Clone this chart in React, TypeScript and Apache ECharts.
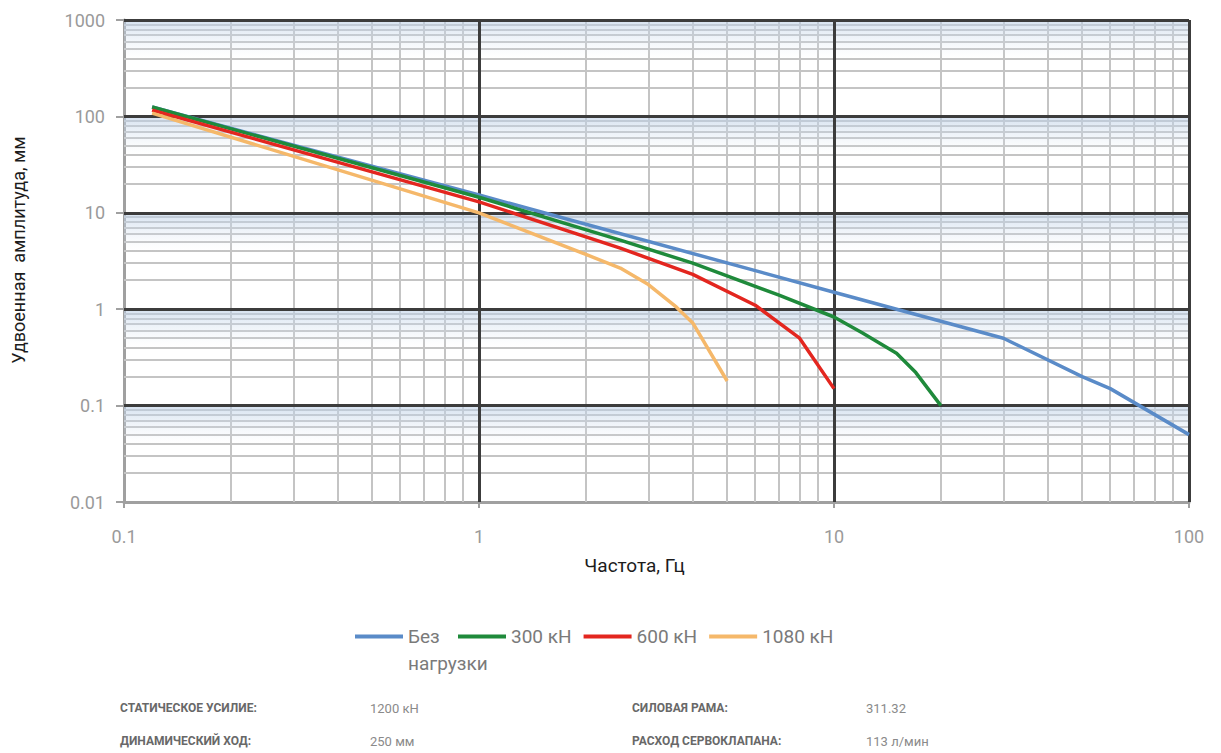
import React, { useEffect, useRef } from 'react';
import * as echarts from 'echarts';

const FONT = "'Liberation Sans Narrow', 'Arial Narrow', 'Roboto', sans-serif";

// Axis ticks
const X_TICKS = ['0.1', '1', '10', '100'];
const Y_TICKS = ['0.01', '0.1', '1', '10', '100', '1000'];
const X_MIN = 0.1;
const X_MAX = 100;
const Y_MIN = 0.01;
const Y_MAX = 1000;

// Grid lines of the log paper
const MINOR_X = [0.2, 0.3, 0.4, 0.5, 0.6, 0.7, 0.8, 0.9, 2, 3, 4, 5, 6, 7, 8, 9, 20, 30, 40, 50, 60, 70, 80, 90];
const MAJOR_X = [1, 10, 100];
const MINOR_Y = [
  0.02, 0.03, 0.04, 0.05, 0.06, 0.07, 0.08, 0.09,
  0.2, 0.3, 0.4, 0.5, 0.6, 0.7, 0.8, 0.9,
  2, 3, 4, 5, 6, 7, 8, 9,
  20, 30, 40, 50, 60, 70, 80, 90,
  200, 300, 400, 500, 600, 700, 800, 900,
];
const MAJOR_Y = [0.1, 1, 10, 100, 1000];
const BAND_TOPS = [1000, 100, 10, 1, 0.1];
const BAND_BOTTOMS = [400, 40, 4, 0.4, 0.04];

// Series
const SERIES_NAMES = ['Без нагрузки', '300 кН', '600 кН', '1080 кН'];
const SERIES_COLORS = ['#5a8bc8', '#1f8a3b', '#e3261f', '#f5b86a'];

const FREQ_NO_LOAD = [0.12, 1, 10, 20, 30, 50, 60, 100];
const AMP_NO_LOAD = [125, 15.3, 1.5, 0.75, 0.5, 0.2, 0.15, 0.05];

const FREQ_300 = [0.12, 1, 2.5, 4, 7, 10, 12, 15, 17, 20];
const AMP_300 = [125, 14.5, 5.2, 3.0, 1.4, 0.83, 0.57, 0.35, 0.22, 0.1];

const FREQ_600 = [0.12, 1, 2.5, 4, 6, 8, 10];
const AMP_600 = [116, 13, 4.3, 2.3, 1.1, 0.5, 0.15];

const FREQ_1080 = [0.12, 1, 2, 2.5, 3, 3.6, 4, 5];
const AMP_1080 = [108, 10, 3.7, 2.67, 1.8, 1.05, 0.72, 0.18];

const FREQS = [FREQ_NO_LOAD, FREQ_300, FREQ_600, FREQ_1080];
const AMPS = [AMP_NO_LOAD, AMP_300, AMP_600, AMP_1080];

// Info table
const INFO_LEFT_LABELS = ['СТАТИЧЕСКОЕ УСИЛИЕ:', 'ДИНАМИЧЕСКИЙ ХОД:'];
const INFO_LEFT_VALUES = ['1200 кН', '250 мм'];
const INFO_RIGHT_LABELS = ['СИЛОВАЯ РАМА:', 'РАСХОД СЕРВОКЛАПАНА:'];
const INFO_RIGHT_VALUES = ['311.32', '113 л/мин'];

function tickLabel(list: string[], v: number): string {
  let best = list[0];
  let bestD = Infinity;
  for (const s of list) {
    const d = Math.abs(Math.log10(parseFloat(s)) - Math.log10(v));
    if (d < bestD) { bestD = d; best = s; }
  }
  return best;
}

export default function App() {
  const ref = useRef<HTMLDivElement>(null);

  useEffect(() => {
    if (!ref.current) return;
    const chart = echarts.init(ref.current, undefined, { renderer: 'svg' });

    const dataSeries = SERIES_NAMES.map((name, i) => ({
      name,
      type: 'line',
      z: 10,
      showSymbol: false,
      symbol: 'none',
      smooth: false,
      lineStyle: { color: SERIES_COLORS[i], width: 3.5 },
      itemStyle: { color: SERIES_COLORS[i] },
      data: FREQS[i].map((f, j) => [f, AMPS[i][j]]),
    }));

    const rowsY = [708, 741];
    const graphicTexts: any[] = [];
    rowsY.forEach((y, r) => {
      graphicTexts.push({ type: 'text', x: 120, y, style: { text: INFO_LEFT_LABELS[r], fill: '#686868', fontSize: 12, fontWeight: 'bold', fontFamily: FONT, verticalAlign: 'middle' } });
      graphicTexts.push({ type: 'text', x: 370, y, style: { text: INFO_LEFT_VALUES[r], fill: '#8a8a8a', fontSize: 13, fontFamily: FONT, verticalAlign: 'middle' } });
      graphicTexts.push({ type: 'text', x: 632, y, style: { text: INFO_RIGHT_LABELS[r], fill: '#686868', fontSize: 12, fontWeight: 'bold', fontFamily: FONT, verticalAlign: 'middle' } });
      graphicTexts.push({ type: 'text', x: 866, y, style: { text: INFO_RIGHT_VALUES[r], fill: '#8a8a8a', fontSize: 13, fontFamily: FONT, verticalAlign: 'middle' } });
    });

    const legendText = { color: '#7a7a7a', fontSize: 19, fontFamily: FONT, lineHeight: 27 };
    const legendCommon = {
      icon: 'rect',
      itemWidth: 48,
      itemHeight: 4,
      padding: 0,
      textStyle: legendText,
    };

    const option: any = {
      animation: false,
      backgroundColor: '#ffffff',
      grid: { left: 124, right: 32, top: 20, bottom: 251, containLabel: false },
      xAxis: {
        type: 'log',
        logBase: 10,
        min: X_MIN,
        max: X_MAX,
        name: '{n|Частота, Гц}',
        nameLocation: 'middle',
        nameGap: 54,
        nameTextStyle: {
          color: '#1c1c1c', fontSize: 19, fontFamily: FONT,
          rich: { n: { color: '#1c1c1c', fontSize: 19, fontFamily: FONT, padding: [0, 44, 0, 0] } },
        },
        axisLine: { show: true, lineStyle: { color: '#a0a0a0', width: 3 } },
        axisTick: { show: true, length: 6, lineStyle: { color: '#a0a0a0', width: 2 } },
        axisLabel: { color: '#9a9a9a', fontSize: 18, fontFamily: FONT, margin: 25, formatter: (v: number) => tickLabel(X_TICKS, v) },
        splitLine: { show: false },
      },
      yAxis: {
        type: 'log',
        logBase: 10,
        min: Y_MIN,
        max: Y_MAX,
        name: '{n|Удвоенная  амплитуда, мм}',
        nameLocation: 'middle',
        nameGap: 97,
        nameTextStyle: {
          color: '#1c1c1c', fontSize: 18, fontFamily: FONT,
          rich: { n: { color: '#1c1c1c', fontSize: 18, fontFamily: FONT, padding: [0, 0, 0, 22] } },
        },
        axisLine: { show: true, lineStyle: { color: '#a0a0a0', width: 3 } },
        axisTick: { show: true, length: 8, lineStyle: { color: '#a0a0a0', width: 2 } },
        axisLabel: { color: '#9a9a9a', fontSize: 18, fontFamily: FONT, margin: 19, formatter: (v: number) => tickLabel(Y_TICKS, v) },
        splitLine: { show: false },
      },
      legend: [
        {
          ...legendCommon,
          left: 355,
          top: 596,
          formatter: () => '\nБез\nнагрузки',
          data: [SERIES_NAMES[0]],
        },
        {
          ...legendCommon,
          left: 458,
          top: 623,
          itemGap: 12,
          data: [SERIES_NAMES[1], SERIES_NAMES[2], SERIES_NAMES[3]],
        },
      ],
      graphic: graphicTexts,
      series: [
        {
          name: '_minor',
          type: 'line',
          data: [],
          silent: true,
          z: 1,
          markLine: {
            silent: true,
            z: 1,
            symbol: ['none', 'none'],
            label: { show: false },
            lineStyle: { color: '#c4c4c4', width: 2, type: 'solid' },
            emphasis: { disabled: true },
            data: [
              ...MINOR_X.map((v) => ({ xAxis: v })),
              ...MINOR_Y.map((v) => ({ yAxis: v })),
            ],
          },
        },
        {
          name: '_bands',
          type: 'line',
          data: [],
          silent: true,
          z: 2,
          markArea: {
            silent: true,
            z: 2,
            itemStyle: {
              color: new echarts.graphic.LinearGradient(0, 0, 0, 1, [
                { offset: 0, color: 'rgba(186,206,230,0.6)' },
                { offset: 1, color: 'rgba(225,234,244,0)' },
              ]),
            },
            emphasis: { disabled: true },
            data: BAND_TOPS.map((t, i) => [{ yAxis: t }, { yAxis: BAND_BOTTOMS[i] }]),
          },
        },
        {
          name: '_major',
          type: 'line',
          data: [],
          silent: true,
          z: 3,
          markLine: {
            silent: true,
            z: 3,
            symbol: ['none', 'none'],
            label: { show: false },
            lineStyle: { color: '#3c3c3c', width: 3, type: 'solid' },
            emphasis: { disabled: true },
            data: [
              ...MAJOR_X.map((v) => ({ xAxis: v })),
              ...MAJOR_Y.map((v) => ({ yAxis: v })),
            ],
          },
        },
        ...dataSeries,
      ],
    };

    chart.setOption(option);
    return () => chart.dispose();
  }, []);

  return <div ref={ref} style={{ position: 'fixed', left: 0, top: 0, width: 1221, height: 753 }} />;
}
